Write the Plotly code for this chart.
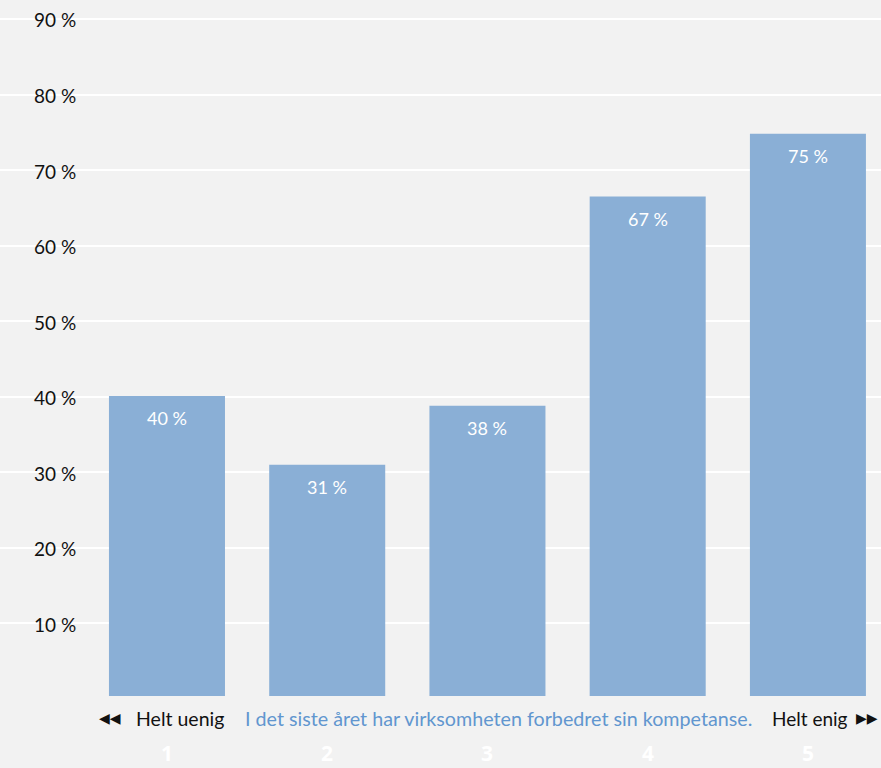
import plotly.graph_objects as go

# ---- data ----
categories = ["1", "2", "3", "4", "5"]
values = [40.1, 31.0, 38.8, 66.5, 74.8]
value_labels = ["40 %", "31 %", "38 %", "67 %", "75 %"]
y_ticks = [10, 20, 30, 40, 50, 60, 70, 80, 90]
y_tick_labels = ["10 %", "20 %", "30 %", "40 %", "50 %", "60 %", "70 %", "80 %", "90 %"]
question = "I det siste året har virksomheten forbedret sin kompetanse."
left_label = "Helt uenig"
right_label = "Helt enig"

# ---- style ----
W, H = 881, 768
BG = "#f2f2f2"
BAR = "#8aafd6"
TITLE_C = "#6196cf"
FONT = "Lato, 'Open Sans', sans-serif"
BASE = 0.4  # small lift of bars above the baseline

idx = list(range(len(categories)))

fig = go.Figure()
fig.add_trace(go.Bar(
    x=idx,
    y=[v - BASE for v in values],
    base=BASE,
    width=0.724,
    marker=dict(color=BAR, line=dict(width=0)),
    hoverinfo="skip",
))

ann = []
# value labels inside bars
for i, v, t in zip(idx, values, value_labels):
    ann.append(dict(x=i, y=v, xref="x", yref="y", text=t, showarrow=False,
                    yanchor="middle", yshift=-22,
                    font=dict(family=FONT, size=18, color="white")))
# y tick labels (left, inside plot)
for v, t in zip(y_ticks, y_tick_labels):
    ann.append(dict(x=32 / W, y=v, xref="paper", yref="y", text=t, showarrow=False,
                    xanchor="left", yanchor="middle", yshift=-1,
                    font=dict(family=FONT, size=19, color="#111111")))
# bottom category numbers
for i, c in zip(idx, categories):
    ann.append(dict(x=i, y=0, xref="x", yref="paper", text=c,
                    showarrow=False, yanchor="middle", yshift=-53, borderpad=0,
                    font=dict(family="'Open Sans', sans-serif", size=21, color="white",
                              weight="bold")))
# scale legend row
row = dict(y=0, yref="paper", xref="paper", showarrow=False, yanchor="middle", yshift=-18)
ann.append(dict(row, x=123 / W, xanchor="right", text="◀◀",
                font=dict(family="DejaVu Sans", size=14, color="#111111")))
ann.append(dict(row, x=134 / W, xanchor="left", text=left_label,
                font=dict(family=FONT, size=19.5, color="#111111")))
ann.append(dict(row, x=243 / W, xanchor="left", text=question,
                font=dict(family=FONT, size=19.7, color=TITLE_C)))
ann.append(dict(row, x=770 / W, xanchor="left", text=right_label,
                font=dict(family=FONT, size=19, color="#111111")))
ann.append(dict(row, x=854 / W, xanchor="left", text="▶▶",
                font=dict(family="DejaVu Sans", size=14, color="#111111")))

fig.update_layout(
    width=W, height=H,
    margin=dict(l=0, r=0, t=0, b=68, pad=0),
    paper_bgcolor=BG, plot_bgcolor=BG,
    showlegend=False,
    annotations=ann,
    xaxis=dict(range=[-1.042, 4.456], showgrid=False,
               showticklabels=False, zeroline=False, showline=False, fixedrange=True),
    yaxis=dict(range=[-0.13, 92.51], tickvals=[0] + y_ticks, showticklabels=False,
               showgrid=True, gridcolor="white", gridwidth=1.5,
               zeroline=False, showline=False, fixedrange=True),
)

fig.write_html("out.html", config={"displayModeBar": False},
               post_script="document.body.style.margin='0';document.body.style.background='%s';" % BG)
